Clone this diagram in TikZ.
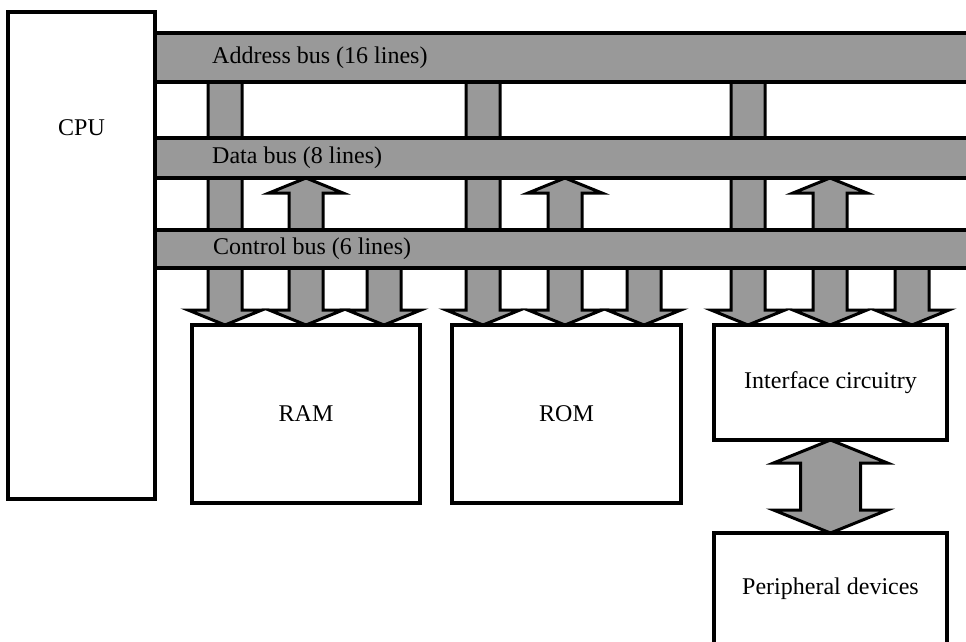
\documentclass[tikz,border=0pt]{standalone}
\usepackage{fontspec}
\setmainfont{Liberation Serif}
\usepackage{tikz}
\usetikzlibrary{positioning, calc, backgrounds}

\definecolor{busgray}{gray}{0.6}

% size of the block arrows
\def\shafthalf{17}
\def\headhalf{37}
\def\headlen{15}

% block arrow from a bus down to a unit: #1 tail, #2 tip
\newcommand{\fatdown}[2]{%
  \draw[fat] ($(#1)+(-\shafthalf,0)$) -- ($(#2)+(-\shafthalf,-\headlen)$)
    -- ($(#2)+(-\headhalf,-\headlen)$) -- (#2)
    -- ($(#2)+(\headhalf,-\headlen)$) -- ($(#2)+(\shafthalf,-\headlen)$)
    -- ($(#1)+(\shafthalf,0)$) -- cycle;}

% two-way block arrow: #1 upper tip, #2 lower tip
\newcommand{\fatboth}[2]{%
  \draw[fat] (#1) -- ($(#1)+(\headhalf,\headlen)$) -- ($(#1)+(\shafthalf,\headlen)$)
    -- ($(#2)+(\shafthalf,-\headlen)$) -- ($(#2)+(\headhalf,-\headlen)$) -- (#2)
    -- ($(#2)+(-\headhalf,-\headlen)$) -- ($(#2)+(-\shafthalf,-\headlen)$)
    -- ($(#1)+(-\shafthalf,\headlen)$) -- ($(#1)+(-\headhalf,\headlen)$) -- cycle;}

\begin{document}
\begin{tikzpicture}[
    x=1pt, y=-1pt,
    every node/.style={font=\fontsize{24}{28}\selectfont},
    unit/.style={rectangle, draw, line width=3.3pt, outer sep=0pt, fill=white, anchor=north west},
    bus/.style={rectangle, draw, line width=3.3pt, outer sep=0pt, fill=busgray, anchor=north west, minimum width=860},
    buslabel/.style={anchor=west, inner sep=0pt},
    fat/.style={draw, line width=3pt, fill=busgray, line join=miter}
]
\path[use as bounding box, clip] (0,0) rectangle (966,642);

% CPU
\node[unit, minimum width=147, minimum height=487] (cpu) at (8,12) {};
\node (cpulabel) at ($(cpu.north)+(0,116)$) {CPU};

% Buses
\node[bus, minimum height=49] (addr) at (155,33) {};
\node[bus, minimum height=40] (data) at (155,138) {};
\node[bus, minimum height=38] (ctrl) at (155,230) {};
\node[buslabel] (addrlabel) at ($(addr.west)+(57,0)$) {Address bus (16 lines)};
\node[buslabel] (datalabel) at ($(data.west)+(57,0)$) {Data bus (8 lines)};
\node[buslabel] (ctrllabel) at ($(ctrl.west)+(58,0)$) {Control bus (6 lines)};

% Units
\node[unit, minimum width=228, minimum height=178] (ram) at (192,325) {RAM};
\node[unit, minimum width=229, minimum height=178, right=32pt of ram] (rom) {ROM};
\node[unit, minimum width=233, minimum height=115, right=33pt of rom.north east, anchor=north west] (iface) {Interface circuitry};
\node[unit, minimum width=233, minimum height=112, below=93pt of iface] (periph) {Peripheral devices};

\coordinate (ramA) at ($(ram.north west)+(33,0)$);
\coordinate (ramD) at ($(ram.north west)+(114,0)$);
\coordinate (ramC) at ($(ram.north west)+(192,0)$);
\coordinate (romA) at ($(rom.north west)+(31,0)$);
\coordinate (romD) at ($(rom.north west)+(113,0)$);
\coordinate (romC) at ($(rom.north west)+(192,0)$);
\coordinate (ifaceA) at ($(iface.north west)+(34,0)$);
\coordinate (ifaceD) at ($(iface.north west)+(116,0)$);
\coordinate (ifaceC) at ($(iface.north west)+(198,0)$);

% Block arrows behind the buses
\begin{scope}[on background layer]
\fatdown{addr.center -| ramA}{ramA}
\fatboth{data.south -| ramD}{ramD}
\fatdown{ctrl.center -| ramC}{ramC}
\fatdown{addr.center -| romA}{romA}
\fatboth{data.south -| romD}{romD}
\fatdown{ctrl.center -| romC}{romC}
\fatdown{addr.center -| ifaceA}{ifaceA}
\fatboth{data.south -| ifaceD}{ifaceD}
\fatdown{ctrl.center -| ifaceC}{ifaceC}
{\def\shafthalf{30}\def\headhalf{57}\def\headlen{23}
 \fatboth{iface.south}{periph.north}}
\end{scope}

\end{tikzpicture}
\end{document}
